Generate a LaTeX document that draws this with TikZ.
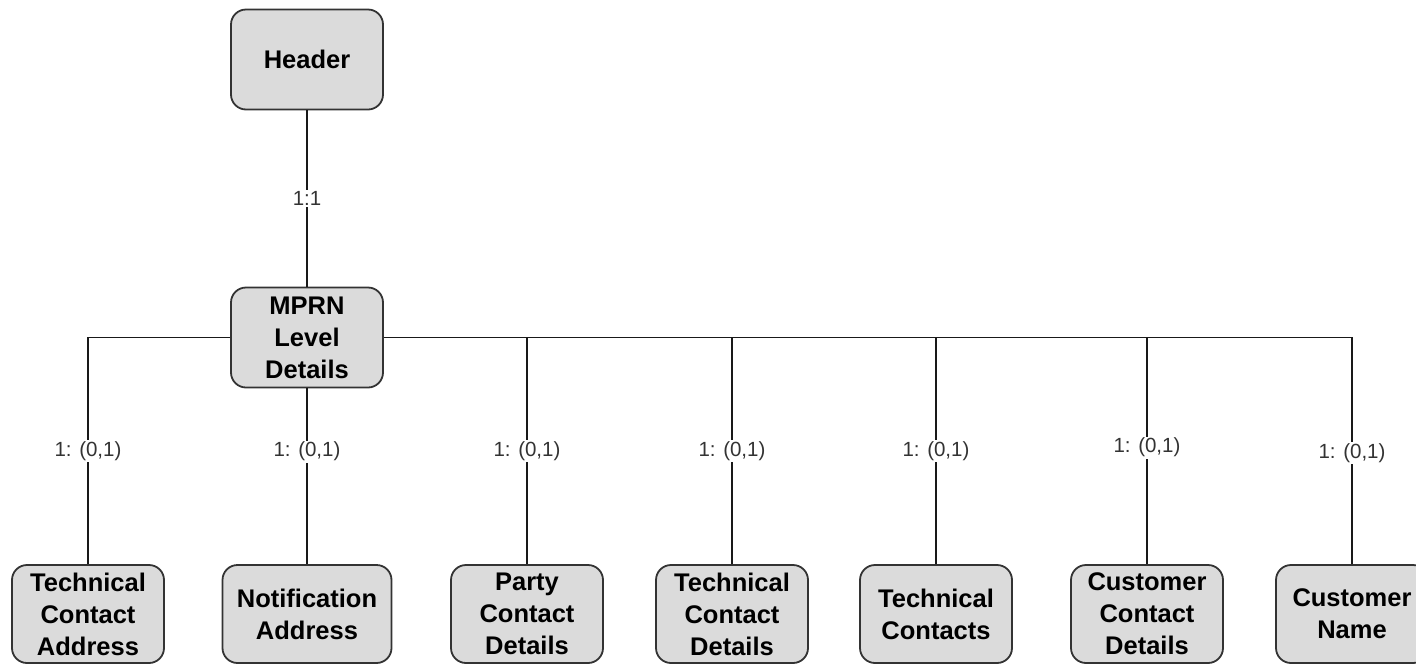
\documentclass[tikz,border=0pt]{standalone}
\usepackage{fontspec}
\setmainfont{Liberation Sans}
\usetikzlibrary{positioning}

\begin{document}
\begin{tikzpicture}[x=1pt,y=-1pt,
 box/.style={draw=black!80,line width=1.8pt,fill=black!14,rounded corners=15pt,
   minimum width=152pt,minimum height=100pt,inner sep=2pt,align=center,
   font=\bfseries\fontsize{25.5}{32}\selectfont},
 lab/.style={fill=white,inner sep=1.5pt,text=black!80,font=\fontsize{20.5}{24}\selectfont},
 link/.style={line width=1.5pt,black!90}]
\useasboundingbox (0,0) rectangle (1416,665);
% top of the tree
\node[box] (hdr) at (307,59.5) {Header};
\node[box] (mprn) at (307,337.5) {MPRN\\Level\\Details};
% children
\node[box,minimum height=98pt] (tca) at (88,614) {Technical\\Contact\\Address};
\node[box,minimum height=98pt,minimum width=169pt] (na) at (307,614) {Notification\\Address};
\node[box,minimum height=98pt] (pcd) at (527,614) {Party\\Contact\\Details};
\node[box,minimum height=98pt] (tcd) at (732,614) {Technical\\Contact\\Details};
\node[box,minimum height=98pt] (tc) at (936,614) {Technical\\Contacts};
\node[box,minimum height=98pt] (ccd) at (1147,614) {Customer\\Contact\\Details};
\node[box,minimum height=98pt] (cn) at (1352,614) {Customer\\Name};
% connectors
\draw[link] (hdr) -- node[lab]{1:1} (mprn);
\draw[link] (tca.north) |- node[lab,pos=0.25]{1: (0,1)} (mprn.west);
\draw[link] (mprn.south) -- node[lab,pos=0.36]{1: (0,1)} (na.north);
\draw[link] (pcd.north) |- node[lab,pos=0.25]{1: (0,1)} (mprn.east);
\draw[link] (tcd.north) |- node[lab,pos=0.25]{1: (0,1)} (mprn.east);
\draw[link] (tc.north) |- node[lab,pos=0.25]{1: (0,1)} (mprn.east);
\draw[link] (ccd.north) |- node[lab,pos=0.257]{1: (0,1)} (mprn.east);
\draw[link] (cn.north) |- node[lab,pos=0.245]{1: (0,1)} (mprn.east);
\end{tikzpicture}
\end{document}
